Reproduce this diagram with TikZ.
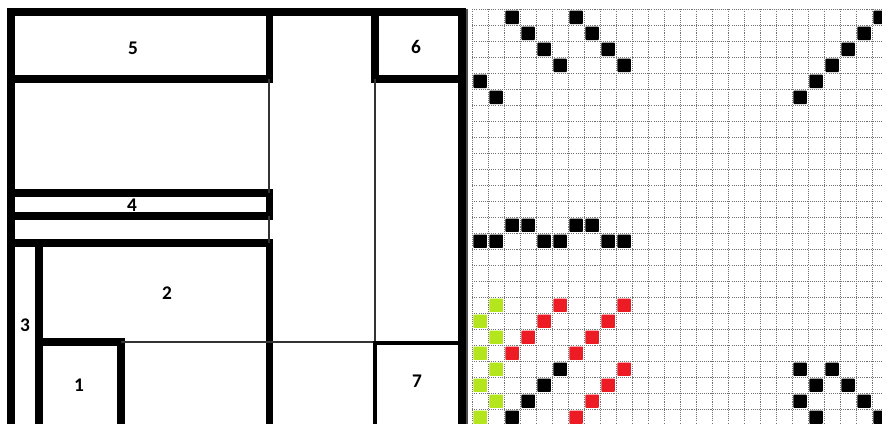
\documentclass[tikz,border=0pt]{standalone}
\usepackage{fontspec}
\newfontfamily\labelfont{Carlito}
\definecolor{cellred}{HTML}{ED1C24}
\definecolor{cellgreen}{HTML}{B5E61D}
\tikzset{
  wall/.style={
    line width=4pt,
    line cap=rect
  },
  partition/.style={
    line width=0.7pt,
    black!80
  },
  roomlabel/.style={
    font=\labelfont\bfseries\fontsize{11}{13}\selectfont
  },
  gridline/.style={
    black!55,
    line width=0.6pt,
    dash pattern=on 0.6pt off 0.6pt
  },
  blackcell/.style={
    fill=black,
    rounded corners=0.5pt
  },
  redcell/.style={
    blackcell,
    fill=cellred
  },
  greencell/.style={
    blackcell,
    fill=cellgreen
  }
}

\begin{document}
\begin{tikzpicture}[x=0.02cm, y=-0.02cm]
  \useasboundingbox (0,0) rectangle (882,423);
  \clip (0,0) rectangle (882,423);

  % plan
  \draw[wall] (11,430) -- (11,12) -- (462,12) -- (462,430);
  \draw[wall] (11,79) -- (269.5,79) -- (269.5,12);
  \draw[wall] (375,12) -- (375,79) -- (462,79);
  \draw[wall] (11,193) -- (269.5,193) -- (269.5,216) -- (11,216);
  \draw[wall] (11,243) -- (269.5,243) -- (269.5,430);
  \draw[wall] (39,243) -- (39,430);
  \draw[wall] (39,342) -- (121,342) -- (121,430);
  \draw[partition] (269,79) -- (269,193);
  \draw[partition] (269,216) -- (269,243);
  \draw[partition] (375,79) -- (375,342);
  \draw[partition] (121,342) -- (462,342);
  \draw[wall, line width=2.2pt] (375,430) -- (375,343) -- (462,343);

  \node[roomlabel] (r5) at (133,48) {5};
  \node[roomlabel] (r6) at (416,47) {6};
  \node[roomlabel] (r4) at (132,205) {4};
  \node[roomlabel] (r2) at (167,293) {2};
  \node[roomlabel] (r3) at (25,325) {3};
  \node[roomlabel] (r1) at (79,385) {1};
  \node[roomlabel] (r7) at (417,381) {7};

  \draw[black!70, line width=0.8pt] (467,9) -- (467,430);

  % grid
  \begin{scope}[xshift=9.446cm, yshift=-0.186cm, x=0.32cm, y=-0.32cm]
    \foreach \i in {0,...,25}
      \draw[gridline] (\i,0) -- (\i,26);
    \foreach \j in {0,...,26}
      \draw[gridline] (0,\j) -- (26,\j);

    \foreach \c/\r in {2/0,3/1,4/2,5/3,6/0,7/1,8/2,9/3,0/4,1/5,
        20/5,21/4,22/3,23/2,24/1,25/0,
        2/13,3/13,6/13,7/13,0/14,1/14,4/14,5/14,8/14,9/14,
        5/22,4/23,3/24,2/25,
        20/22,22/22,21/23,23/23,20/24,24/24,21/25,25/25}
      \fill[blackcell] (\c+0.08,\r+0.08) rectangle +(0.84,0.84);
    \foreach \c/\r in {5/18,4/19,3/20,2/21,9/18,8/19,7/20,6/21,
        9/22,8/23,7/24,6/25}
      \fill[redcell] (\c+0.08,\r+0.08) rectangle +(0.84,0.84);
    \foreach \c/\r in {1/18,0/19,1/20,0/21,1/22,0/23,1/24,0/25}
      \fill[greencell] (\c+0.08,\r+0.08) rectangle +(0.84,0.84);
  \end{scope}
\end{tikzpicture}
\end{document}
